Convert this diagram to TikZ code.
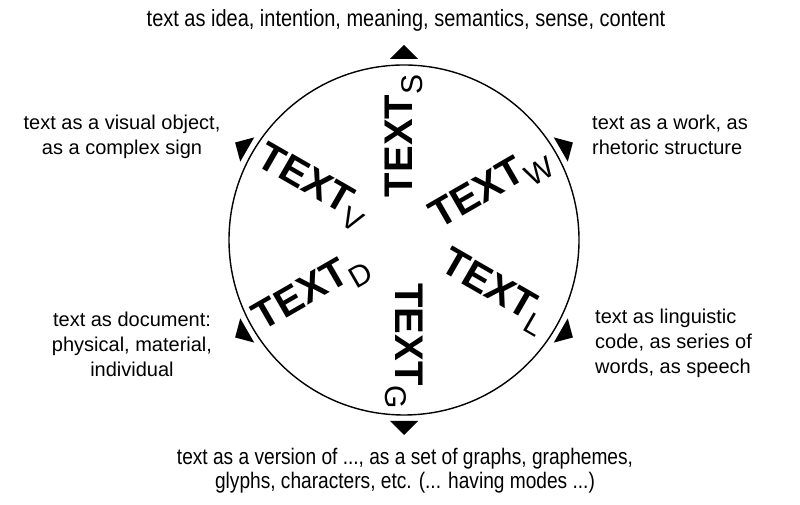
\documentclass[tikz,border=0pt]{standalone}
\usepackage{fontspec}
\setmainfont{Liberation Sans}
\newfontfamily\narrowfont[FakeStretch=0.85]{Liberation Sans}
\usetikzlibrary{calc}
\tikzstyle{note} = [inner sep=0pt, font=\fontsize{20}{25}\selectfont]
\tikzstyle{wide} = [inner sep=0pt, align=center, font=\narrowfont\fontsize{23.5}{24}\selectfont]
\tikzstyle{big} = [inner sep=0pt, font=\fontsize{40}{40}\selectfont\bfseries]
\tikzstyle{tip} = [fill=black]
\newcommand{\tx}[1]{TEXT\raisebox{-10pt}{\fontsize{30}{30}\selectfont\mdseries #1}}

\begin{document}
\begin{tikzpicture}[x=1pt, y=1pt]
\useasboundingbox (0,0) rectangle (800,505);

\coordinate (c) at (404,265);
\draw[line width=1.4pt] (c) circle [radius=175pt];

% small triangles round the circle
\foreach \a in {30,90,...,330}
  \fill[tip, shift={(c)}, rotate=\a] (181pt,-14pt) -- (181pt,14pt) -- (195pt,0pt) -- cycle;

\node (ts) [big, rotate=90]  at ($(c)+(90:104pt)$)  {\tx{S}};
\node (tw) [big, rotate=30]  at ($(c)+(30:101pt)$)  {\tx{W}};
\node (tl) [big, rotate=-30] at ($(c)+(-30:104pt)$) {\tx{L}};
\node (tg) [big, rotate=-90] at ($(c)+(270:106pt)$) {\tx{G}};
\node (td) [big, rotate=30]  at ($(c)+(210:106pt)$) {\tx{D}};
\node (tv) [big, rotate=-30] at ($(c)+(150:106pt)$) {\tx{V}};

\node (idea)     [wide] at (406,485) {text as idea, intention, meaning, semantics, sense, content};
\node (version)  [wide, font=\narrowfont\fontsize{22.5}{24}\selectfont] at (405,34) {text as a version of ..., as a set of graphs, graphemes,\\glyphs, characters, etc. (... having modes ...)};
\node (visual)   [note, align=center] at (122,368) {text as a visual object,\\as a complex sign};
\node (document) [note, align=center] at (132,161) {text as document:\\physical, material,\\individual};
\node (work)     [note, align=left, anchor=west] at (592,370) {text as a work, as\\rhetoric structure};
\node (code)     [note, align=left, anchor=west] at (595,162) {text as linguistic\\code, as series of\\words, as speech};

\end{tikzpicture}
\end{document}
